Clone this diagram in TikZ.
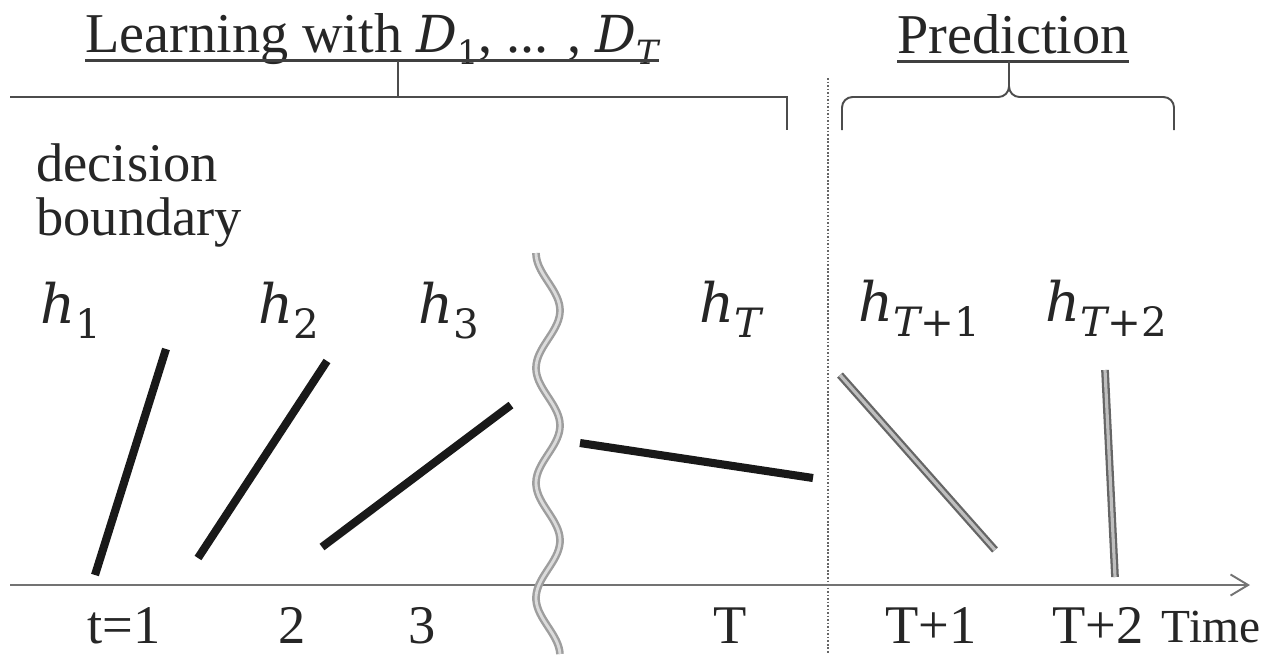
\documentclass[tikz,border=0pt]{standalone}
\usepackage{fontspec}
\setmainfont{Liberation Serif}
\newfontfamily\mfont{DejaVu Serif}
\usetikzlibrary{arrows.meta}
\newcommand{\hlbl}[1]{{\mfont\itshape h}\raisebox{-9pt}{\fontsize{23}{24}\selectfont\mfont #1}}
\newcommand{\dlbl}[1]{{\fontsize{29}{32}\selectfont\mfont\itshape D}\raisebox{-7pt}{\fontsize{19}{20}\selectfont\mfont #1}}
\begin{document}
\begin{tikzpicture}[x=0.02cm,y=-0.02cm,
  ttl/.style={inner sep=0pt, anchor=base west, font=\fontsize{32}{36}\selectfont, text=black!85},
  lbl/.style={inner sep=0pt, anchor=base, font=\fontsize{31}{35}\selectfont, text=black!85},
  txt/.style={inner sep=0pt, anchor=base west, font=\fontsize{31}{34}\selectfont, text=black!85},
  hlab/.style={inner sep=0pt, anchor=base west, font=\fontsize{31}{36}\selectfont, text=black!85},
  bnd/.style={line width=4.6pt, black!90},
  dbl/.style={draw=black!60, double=black!25, line width=1.3pt, double distance=1.8pt},
  wavy/.style={draw=black!38, double=black!14, line width=1.4pt, double distance=1.6pt},
  brc/.style={draw=black!70, line width=1.1pt},
  uline/.style={draw=black!75, line width=1.8pt},
]
\useasboundingbox (0,0) rectangle (1265,654);

% titles
\node[ttl] (learn) at (85,52) {Learning with \dlbl{1}, ... , \dlbl{\itshape T}};
\node[ttl] (pred) at (897,53) {Prediction};
\draw[uline] ([yshift=-5pt]learn.base west) -- ([yshift=-5pt]learn.base east);
\draw[uline] ([yshift=-5pt]pred.base west) -- ([yshift=-5pt]pred.base east);

% braces
\coordinate (lt) at (398,61);
\coordinate (lm) at (398,97);
\coordinate (ll) at (10,97);
\coordinate (lr) at (787,97);
\coordinate (lre) at (787,130);
\draw[brc] (lt) -- (lm);
\draw[brc] (ll) -- (lr) -- (lre);

\coordinate (pt) at (1009,61);
\coordinate (pm) at (1009,97);
\coordinate (pl) at (842,97);
\coordinate (ple) at (842,130);
\coordinate (pr) at (1174,97);
\coordinate (pre) at (1174,130);
\draw[brc, rounded corners=6pt] (ple) -- (pl) -- (pm) -- (pt);
\draw[brc, rounded corners=6pt] (pre) -- (pr) -- (pm) -- (pt);

% separator
\coordinate (dt) at (828,78);
\coordinate (db) at (828,654);
\draw[black!60, line width=1pt, densely dotted] (dt) -- (db);

% decision boundary
\node[txt] (dec) at (36,181) {decision};
\node[txt] (bdy) at (36,235) {boundary};

% hypothesis labels
\node[hlab] (h1) at (40,323) {\hlbl{1}};
\node[hlab] (h2) at (258,323) {\hlbl{2}};
\node[hlab] (h3) at (418,323) {\hlbl{3}};
\node[hlab] (hT) at (699,322) {\hlbl{\itshape T}};
\node[hlab] (hT1) at (858,321) {\hlbl{{\itshape T}+1}};
\node[hlab] (hT2) at (1045,321) {\hlbl{{\itshape T}+2}};

% decision boundaries
\coordinate (a1) at (95,575); \coordinate (b1) at (166,349);
\coordinate (a2) at (198,558); \coordinate (b2) at (327,361);
\coordinate (a3) at (322,547); \coordinate (b3) at (511,405);
\coordinate (aT) at (580,443); \coordinate (bT) at (813,478);
\coordinate (aT1) at (840,375); \coordinate (bT1) at (995,550);
\coordinate (aT2) at (1105,370); \coordinate (bT2) at (1115,577);
\draw[bnd] (a1) -- (b1);
\draw[bnd] (a2) -- (b2);
\draw[bnd] (a3) -- (b3);
\draw[bnd] (aT) -- (bT);
\draw[dbl] (aT1) -- (bT1);
\draw[dbl] (aT2) -- (bT2);

% time axis
\coordinate (ax0) at (10,585);
\coordinate (ax1) at (1250,585);
\draw[black!55, line width=1.1pt, -{Straight Barb[length=10pt,width=12pt,line width=1.1pt]}] (ax0) -- (ax1);

% wavy break
\draw[wavy] plot[domain=0:401, samples=120, smooth] ({548+12*sin(\x*3.1304-90)}, {253+\x});

% axis labels
\node[lbl] (t1) at (124,643) {t=1};
\node[lbl] (t2) at (292,643) {2};
\node[lbl] (t3) at (422,643) {3};
\node[lbl] (tT) at (730,643) {T};
\node[lbl] (tT1) at (931,643) {T+1};
\node[lbl] (tT2) at (1098,643) {T+2};
\node[inner sep=0pt, anchor=base, font=\fontsize{27}{30}\selectfont, text=black!85] (time) at (1211,642) {Time};
\end{tikzpicture}
\end{document}
